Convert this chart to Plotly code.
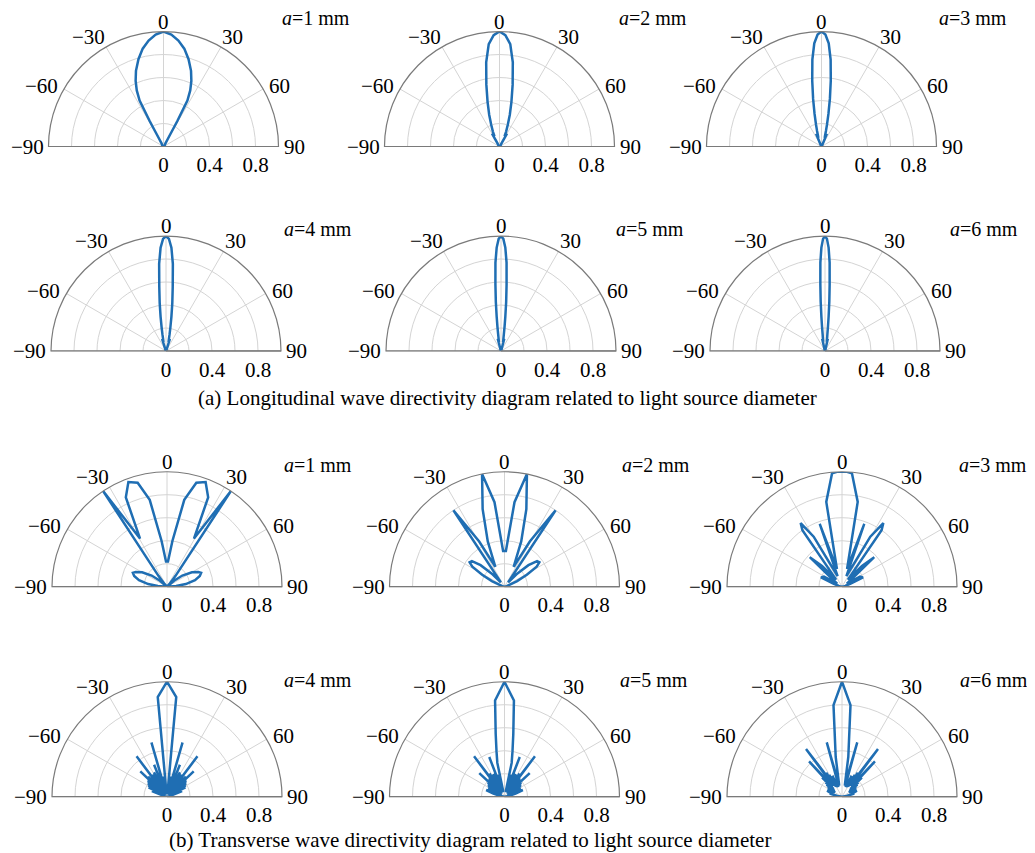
import plotly.graph_objects as go

# ---------------- data (right half, mirrored to the left) ----------------
# Longitudinal wave directivity (a = 1..6 mm)
lon1_theta = [0, 4, 8, 12, 16, 20, 23, 25.5, 27.5, 28.5, 29.5, 32, 40, 60, 90]
lon1_r = [1.0, 0.975, 0.93, 0.87, 0.79, 0.70, 0.62, 0.54, 0.45, 0.25, 0.08, 0.03, 0.02, 0.01, 0.0]
lon2_theta = [0, 3, 6, 9, 12, 15, 18, 21, 24, 26, 30, 33, 40, 50, 90]
lon2_r = [1.0, 0.97, 0.895, 0.74, 0.55, 0.40, 0.29, 0.20, 0.14, 0.10, 0.13, 0.03, 0.02, 0.01, 0.0]
lon3_theta = [0, 2, 4, 6, 8, 10, 12, 14, 16, 18, 20, 23, 26, 35, 90]
lon3_r = [1.0, 0.975, 0.90, 0.76, 0.58, 0.42, 0.29, 0.20, 0.14, 0.10, 0.08, 0.12, 0.02, 0.01, 0.0]
lon4_theta = [0, 1.5, 3, 4.5, 6, 7.5, 9, 10.5, 12, 14, 16, 18, 21, 30, 90]
lon4_r = [1.0, 0.975, 0.90, 0.76, 0.56, 0.42, 0.30, 0.21, 0.15, 0.10, 0.08, 0.11, 0.02, 0.01, 0.0]
lon5_theta = [0, 1.2, 2.4, 3.6, 4.8, 6, 7.2, 8.4, 9.6, 11, 13, 15, 18, 25, 90]
lon5_r = [1.0, 0.975, 0.90, 0.77, 0.58, 0.43, 0.30, 0.21, 0.15, 0.11, 0.08, 0.11, 0.02, 0.01, 0.0]
lon6_theta = [0, 1, 2, 3, 4, 5, 6, 7, 8, 9.5, 11, 13, 15.5, 22, 90]
lon6_r = [1.0, 0.975, 0.90, 0.77, 0.58, 0.43, 0.30, 0.21, 0.15, 0.11, 0.08, 0.11, 0.02, 0.01, 0.0]

# Transverse wave directivity (a = 1..6 mm)
tra1_theta = [2.25, 6.75, 11.25, 15.75, 20.25, 24.75, 29.25, 33.75, 38.25, 42.75, 47, 50,
              54, 60, 65, 68, 72, 77, 82, 86, 90]
tra1_r = [0.22, 0.40, 0.77, 0.94, 0.97, 0.855, 0.48, 1.0, 0.12, 0.03, 0.0, 0.08,
          0.165, 0.25, 0.30, 0.32, 0.30, 0.25, 0.165, 0.08, 0.0]
tra2_theta = [2.25, 6.75, 11.25, 15.75, 20.25, 24.75, 29.25, 33.75, 38.25, 40, 44, 48,
              52, 55, 58, 62, 66, 70, 76, 90]
tra2_r = [0.31, 0.74, 1.0, 0.70, 0.42, 0.19, 0.45, 0.80, 0.06, 0.05, 0.15, 0.28,
          0.36, 0.37, 0.33, 0.22, 0.12, 0.05, 0.02, 0.0]
tra3_theta = [0, 2.5, 5, 10.5, 16, 19.5, 22.5, 29.5, 33, 35, 39.5, 44, 47.5, 51, 57, 61, 66, 70, 76, 84, 90]
tra3_r = [1.0, 1.0, 0.99, 0.75, 0.16, 0.58, 0.10, 0.50, 0.66, 0.60, 0.08, 0.25, 0.38, 0.12, 0.05,
          0.18, 0.20, 0.08, 0.03, 0.01, 0.0]
tra4_theta = [0, 5.3, 8, 9.5, 11, 12.5, 14, 16, 17.5, 19, 20.5, 22, 23.5, 25, 26.5, 28, 29.5, 31,
              32.5, 34, 35.5, 37, 38.5, 40, 41.5, 43, 44.5, 46.5, 48, 49.5, 51, 52.5, 54, 55.5,
              57, 59, 61, 63, 66, 70, 75, 82, 90]
tra4_r = [1.0, 0.87, 0.03, 0.16, 0.02, 0.18, 0.02, 0.49, 0.02, 0.19, 0.02, 0.30, 0.02, 0.20, 0.02,
          0.24, 0.02, 0.21, 0.02, 0.23, 0.03, 0.44, 0.03, 0.22, 0.02, 0.24, 0.03, 0.32, 0.02, 0.22,
          0.02, 0.21, 0.02, 0.20, 0.02, 0.19, 0.02, 0.18, 0.02, 0.14, 0.03, 0.03, 0.0]
tra5_theta = [0, 5.6, 8, 10, 12, 13.5, 15, 16.5, 18, 19.5, 21, 22.5, 24, 25.5, 27, 28.5, 30, 31.5,
              33, 34.5, 37, 38.5, 40, 41.5, 43, 44.5, 47, 48.5, 50, 51.5, 53, 55, 57, 59, 62, 66,
              70, 74, 80, 90]
tra5_r = [1.0, 0.84, 0.55, 0.40, 0.30, 0.05, 0.18, 0.04, 0.20, 0.04, 0.37, 0.04, 0.18, 0.04, 0.22,
          0.04, 0.19, 0.04, 0.24, 0.05, 0.44, 0.05, 0.21, 0.04, 0.20, 0.04, 0.30, 0.04, 0.19, 0.04,
          0.18, 0.03, 0.17, 0.03, 0.16, 0.03, 0.17, 0.10, 0.04, 0.0]
tra6_theta = [0, 5.3, 9, 12, 14, 15.7, 17, 18.5, 20, 21.5, 23, 24.5, 26, 27.5, 29, 30.5, 32, 33.5,
              35, 37, 38.5, 40, 41.5, 43, 44.5, 46, 47.5, 49, 50.5, 52, 54, 56, 58, 61, 64, 68,
              72, 76, 82, 90]
tra6_r = [1.0, 0.80, 0.35, 0.14, 0.10, 0.49, 0.10, 0.14, 0.09, 0.17, 0.09, 0.20, 0.10, 0.18, 0.10,
          0.22, 0.11, 0.25, 0.12, 0.52, 0.13, 0.22, 0.12, 0.42, 0.12, 0.24, 0.10, 0.19, 0.09, 0.17,
          0.08, 0.15, 0.07, 0.14, 0.08, 0.14, 0.10, 0.10, 0.04, 0.0]

panel_labels = ["1", "2", "3", "4", "5", "6", "1", "2", "3", "4", "5", "6"]
angle_ticks = [-90, -60, -30, 0, 30, 60, 90]
angle_ticktext = ["\u221290", "\u221260", "\u221230", "0", "30", "60", "90"]
radial_ticks = [0, 0.2, 0.4, 0.6, 0.8, 1.0]
radial_ticktext = ["0", "", "0.4", "", "0.8", ""]

series = [
    (lon1_theta, lon1_r), (lon2_theta, lon2_r), (lon3_theta, lon3_r),
    (lon4_theta, lon4_r), (lon5_theta, lon5_r), (lon6_theta, lon6_r),
    (tra1_theta, tra1_r), (tra2_theta, tra2_r), (tra3_theta, tra3_r),
    (tra4_theta, tra4_r), (tra5_theta, tra5_r), (tra6_theta, tra6_r),
]


def mirror(th, r):
    if th[0] == 0:
        lt = [-t for t in th[:0:-1]]
        lr = list(r[:0:-1])
    else:
        lt = [-t for t in th[::-1]]
        lr = list(r[::-1])
    return lt + list(th), lr + list(r)


# ---------------- layout geometry (screen pixels; page body has an 8px margin) ----------------
OFF = 8
W, H = 1035 - OFF, 853 - OFF
R = 115
row_base = [146.5, 351, 586.7, 796.7]
row_cx = [[163.5, 499.5, 821.5], [166, 501, 825], [167, 504.5, 842], [167, 504.5, 842]]
label_pos = [[(280, 18), (617, 18), (937, 18)],
             [(282, 229), (614, 229), (948, 229)],
             [(282, 465), (620, 465), (957, 465)],
             [(282, 680), (618, 680), (958, 680)]]
# placement of angular tick labels relative to the pole: (dx, dy, xanchor)
angle_label_place = {-90: (-119, 0, "right"), -60: (-104.7, -60.5, "right"),
                     -30: (-57.5, -109.5, "right"), 0: (0, -125, "center"),
                     30: (57.5, -109.5, "left"), 60: (104.7, -60.5, "left"),
                     90: (119, 0, "left")}


def px(x):
    return (x - OFF) / W


def py(y):
    return 1 - (y - OFF) / H


FONT = "Liberation Serif"
TICK_SIZE = 21
BLUE = "#1f6eb3"
GRID = "#d4d4d4"
FRAME = "#7a7a7a"

fig = go.Figure()
layout = dict(width=W, height=H, margin=dict(l=0, r=0, t=0, b=0),
              paper_bgcolor="white", plot_bgcolor="white", showlegend=False,
              font=dict(family=FONT, size=TICK_SIZE, color="black"))
annotations = []

for i, (th, rr) in enumerate(series):
    row, col = divmod(i, 3)
    name = "polar" if i == 0 else f"polar{i+1}"
    cx, by = row_cx[row][col], row_base[row]
    layout[name] = dict(
        domain=dict(x=[px(cx - R), px(cx + R)], y=[py(by), py(by - R)]),
        sector=[0, 180],
        bgcolor="white",
        angularaxis=dict(rotation=90, direction="clockwise", tickmode="array",
                         tickvals=angle_ticks, ticktext=angle_ticktext, ticks="",
                         showticklabels=False,
                         showline=True, linecolor=FRAME, linewidth=1.2,
                         gridcolor=GRID, gridwidth=1),
        radialaxis=dict(range=[0, 1], tickmode="array", tickvals=radial_ticks,
                        ticktext=radial_ticktext, ticks="", showline=True,
                        linecolor=FRAME, linewidth=1.2, gridcolor=GRID, gridwidth=1,
                        angle=0, tickangle=0,
                        tickfont=dict(family=FONT, size=TICK_SIZE, color="black")),
    )
    # baseline of the half-circle frame
    fig.add_trace(go.Scatterpolar(r=[1, 0, 1], theta=[-90, 0, 90], mode="lines",
                                  line=dict(color=FRAME, width=1.2), hoverinfo="skip",
                                  subplot=name))
    ft, fr = mirror(th, rr)
    fig.add_trace(go.Scatterpolar(r=fr, theta=ft, mode="lines",
                                  line=dict(color=BLUE, width=2.5), subplot=name))
    # angular tick labels
    for tv, tt in zip(angle_ticks, angle_ticktext):
        dx, dy, xa = angle_label_place[tv]
        annotations.append(dict(text=tt, x=px(cx + dx), y=py(by + dy), xref="paper", yref="paper",
                                xanchor=xa, yanchor="middle", showarrow=False, borderpad=0,
                                font=dict(family=FONT, size=TICK_SIZE, color="black")))
    lx, ly = label_pos[row][col]
    annotations.append(dict(text=f"<i>a</i>={panel_labels[i]} mm", x=px(lx), y=py(ly),
                            xref="paper", yref="paper", xanchor="left", yanchor="middle",
                            showarrow=False, font=dict(family=FONT, size=20, color="black")))

annotations.append(dict(text="(a) Longitudinal wave directivity diagram related to light source diameter",
                        x=px(507), y=py(398), xref="paper", yref="paper", xanchor="center",
                        yanchor="middle", showarrow=False, font=dict(family=FONT, size=21, color="black")))
annotations.append(dict(text="(b) Transverse wave directivity diagram related to light source diameter",
                        x=px(470), y=py(840), xref="paper", yref="paper", xanchor="center",
                        yanchor="middle", showarrow=False, font=dict(family=FONT, size=21, color="black")))
layout["annotations"] = annotations
fig.update_layout(**layout)
fig.write_html("out.html")
